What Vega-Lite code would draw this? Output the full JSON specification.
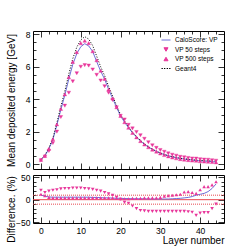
{
  "$schema": "https://vega.github.io/schema/vega-lite/v6.json",
  "padding": {"left": 5, "top": 29, "right": 0, "bottom": 0},
  "spacing": 6,
  "bounds": "flush",
  "config": {
    "font": "Liberation Sans",
    "view": {"stroke": "#000", "strokeWidth": 1},
    "axis": {"domain": false, "grid": false, "tickColor": "#000", "labelColor": "#000", "titleColor": "#000", "labelFontSize": 8.5, "titleFontSize": 10, "titleFontWeight": "normal", "tickWidth": 0.8, "labelFont": "Liberation Sans", "titleFont": "Liberation Sans"}
  },
  "datasets": {
    "prof": [
      {"l":0,"g":0.3,"c":0.27,"cd":10,"a":0.24,"ad":21,"b":0.265,"bd":12},
      {"l":1,"g":0.56,"c":0.515,"cd":8,"a":0.47,"ad":16,"b":0.51,"bd":9},
      {"l":2,"g":1.0,"c":0.94,"cd":6,"a":0.81,"ad":19,"b":0.95,"bd":5},
      {"l":3,"g":1.6,"c":1.512,"cd":5.5,"a":1.3,"ad":21,"b":1.54,"bd":4},
      {"l":4,"g":2.55,"c":2.41,"cd":5.5,"a":2.0,"ad":22,"b":2.45,"bd":4},
      {"l":5,"g":3.55,"c":3.355,"cd":5.5,"a":2.9,"ad":24,"b":3.4,"bd":4},
      {"l":6,"g":4.5,"c":4.253,"cd":5.5,"a":3.6,"ad":25,"b":4.3,"bd":4},
      {"l":7,"g":5.55,"c":5.245,"cd":5.5,"a":4.4,"ad":25,"b":5.35,"bd":4},
      {"l":8,"g":6.5,"c":6.14,"cd":5.5,"a":5.1,"ad":26,"b":6.3,"bd":4},
      {"l":9,"g":7.2,"c":6.804,"cd":5.5,"a":5.6,"ad":26,"b":6.9,"bd":4},
      {"l":10,"g":7.65,"c":7.23,"cd":5.5,"a":6.0,"ad":26,"b":7.45,"bd":4},
      {"l":11,"g":7.85,"c":7.418,"cd":5.5,"a":6.1,"ad":25,"b":7.6,"bd":4},
      {"l":12,"g":7.7,"c":7.28,"cd":5.5,"a":6.07,"ad":24,"b":7.45,"bd":4},
      {"l":13,"g":7.3,"c":6.935,"cd":5,"a":5.83,"ad":23,"b":6.95,"bd":4},
      {"l":14,"g":6.65,"c":6.318,"cd":5,"a":5.5,"ad":21,"b":6.4,"bd":4},
      {"l":15,"g":6.0,"c":5.73,"cd":4.5,"a":5.15,"ad":19,"b":5.75,"bd":4},
      {"l":16,"g":5.45,"c":5.232,"cd":4,"a":4.8,"ad":16,"b":5.25,"bd":4},
      {"l":17,"g":4.8,"c":4.608,"cd":4,"a":4.4,"ad":13,"b":4.6,"bd":4},
      {"l":18,"g":4.2,"c":4.053,"cd":3.5,"a":3.95,"ad":10,"b":4.05,"bd":4},
      {"l":19,"g":3.6,"c":3.492,"cd":3,"a":3.5,"ad":5,"b":3.5,"bd":3},
      {"l":20,"g":3.05,"c":2.959,"cd":3,"a":2.98,"ad":1,"b":2.97,"bd":2},
      {"l":21,"g":2.65,"c":2.584,"cd":2.5,"a":2.75,"ad":-6,"b":2.58,"bd":2},
      {"l":22,"g":2.3,"c":2.243,"cd":2.5,"a":2.42,"ad":-8,"b":2.24,"bd":2},
      {"l":23,"g":1.97,"c":1.931,"cd":2,"a":2.2,"ad":-14,"b":1.92,"bd":3},
      {"l":24,"g":1.7,"c":1.666,"cd":2,"a":1.98,"ad":-20,"b":1.65,"bd":3},
      {"l":25,"g":1.46,"c":1.431,"cd":2,"a":1.78,"ad":-24,"b":1.42,"bd":3},
      {"l":26,"g":1.25,"c":1.225,"cd":2,"a":1.56,"ad":-25,"b":1.21,"bd":4},
      {"l":27,"g":1.07,"c":1.054,"cd":1.5,"a":1.35,"ad":-26,"b":1.04,"bd":4},
      {"l":28,"g":0.92,"c":0.906,"cd":1.5,"a":1.16,"ad":-26,"b":0.89,"bd":4},
      {"l":29,"g":0.8,"c":0.788,"cd":1.5,"a":1.0,"ad":-26,"b":0.77,"bd":4},
      {"l":30,"g":0.69,"c":0.68,"cd":1.5,"a":0.87,"ad":-26,"b":0.66,"bd":5},
      {"l":31,"g":0.6,"c":0.591,"cd":1.5,"a":0.76,"ad":-26,"b":0.56,"bd":8},
      {"l":32,"g":0.52,"c":0.512,"cd":1.5,"a":0.66,"ad":-26,"b":0.48,"bd":9},
      {"l":33,"g":0.46,"c":0.451,"cd":2,"a":0.58,"ad":-26,"b":0.41,"bd":10},
      {"l":34,"g":0.41,"c":0.4,"cd":2.5,"a":0.52,"ad":-26,"b":0.36,"bd":11},
      {"l":35,"g":0.36,"c":0.349,"cd":3,"a":0.45,"ad":-26,"b":0.31,"bd":12},
      {"l":36,"g":0.33,"c":0.317,"cd":4,"a":0.42,"ad":-26,"b":0.28,"bd":17},
      {"l":37,"g":0.3,"c":0.285,"cd":5,"a":0.38,"ad":-27,"b":0.25,"bd":18},
      {"l":38,"g":0.27,"c":0.251,"cd":7,"a":0.35,"ad":-28,"b":0.22,"bd":16},
      {"l":39,"g":0.25,"c":0.225,"cd":10,"a":0.34,"ad":-35,"b":0.21,"bd":14},
      {"l":40,"g":0.23,"c":0.2,"cd":12,"a":0.3,"ad":-30,"b":0.18,"bd":22},
      {"l":41,"g":0.22,"c":0.187,"cd":14,"a":0.28,"ad":-29,"b":0.16,"bd":29},
      {"l":42,"g":0.21,"c":0.172,"cd":18,"a":0.27,"ad":-29,"b":0.15,"bd":29},
      {"l":43,"g":0.2,"c":0.152,"cd":25,"a":0.24,"ad":-20,"b":0.13,"bd":33},
      {"l":44,"g":0.19,"c":0.127,"cd":35,"a":0.21,"ad":-10,"b":0.11,"bd":40}
    ],
    "refs": [
      {"v": 0, "kind": "solid"},
      {"v": 10, "kind": "dot"},
      {"v": -10, "kind": "dot"}
    ]
  },
  "vconcat": [
    {
      "width": 191,
      "height": 138,
      "data": {"name": "prof"},
      "layer": [
        {
          "mark": {"type": "line", "color": "#6e6ed8", "strokeWidth": 1},
          "encoding": {
            "x": {"field": "l", "type": "quantitative", "scale": {"domain": [-2, 46], "nice": false, "zero": false},
              "axis": {"orient": "bottom", "values": [0,2,4,6,8,10,12,14,16,18,20,22,24,26,28,30,32,34,36,38,40,42,44], "labels": false, "title": null,
                "tickSize": {"condition": {"test": "datum.value % 10 === 0", "value": -6}, "value": -3}}},
            "y": {"field": "c", "type": "quantitative", "scale": {"domain": [-0.3, 8.2], "nice": false, "zero": false},
              "axis": {"orient": "left", "values": [0,0.5,1,1.5,2,2.5,3,3.5,4,4.5,5,5.5,6,6.5,7,7.5,8],
                "labelExpr": "datum.value % 2 === 0 ? format(datum.value, 'd') : ''", "labelPadding": 9,
                "tickSize": {"condition": {"test": "datum.value % 2 === 0", "value": -6}, "value": -3},
                "title": "Mean deposited energy [GeV]", "titleX": -22, "titleBaseline": "middle", "titleAngle": -90}}
          }
        },
        {
          "mark": {"type": "line", "color": "#000000", "strokeWidth": 1, "strokeDash": [1, 1.6]},
          "encoding": {
            "x": {"field": "l", "type": "quantitative", "scale": {"domain": [-2, 46], "nice": false, "zero": false},
              "axis": {"orient": "top", "values": [0,2,4,6,8,10,12,14,16,18,20,22,24,26,28,30,32,34,36,38,40,42,44], "labels": false, "title": null,
                "tickSize": {"condition": {"test": "datum.value % 10 === 0", "value": -6}, "value": -3}}},
            "y": {"field": "g", "type": "quantitative", "scale": {"domain": [-0.3, 8.2], "nice": false, "zero": false},
              "axis": {"orient": "right", "values": [0,0.5,1,1.5,2,2.5,3,3.5,4,4.5,5,5.5,6,6.5,7,7.5,8], "labels": false, "title": null,
                "tickSize": {"condition": {"test": "datum.value % 2 === 0", "value": -6}, "value": -3}}}
          }
        },
        {
          "mark": {"type": "point", "filled": true, "opacity": 1, "size": 64, "strokeWidth": 0.4},
          "encoding": {
            "x": {"field": "l", "type": "quantitative", "axis": null},
            "y": {"field": "a", "type": "quantitative", "axis": null},
            "color": {"datum": "VP 50 steps", "type": "nominal",
              "scale": {"domain": ["CaloScore: VP", "VP 50 steps", "VP 500 steps", "Geant4"], "range": ["#6e6ed8", "#e8379b", "#e8379b", "#000000"]},
              "legend": {"orient": "none", "legendX": 128, "legendY": 4, "title": null, "labelFontSize": 6.5, "symbolSize": 81, "rowPadding": 0.5, "symbolStrokeWidth": 1, "labelOffset": 4, "padding": 0, "labelColor": "#000"}},
            "stroke": {"datum": "VP 50 steps", "type": "nominal",
              "scale": {"domain": ["CaloScore: VP", "VP 50 steps", "VP 500 steps", "Geant4"], "range": ["#6e6ed8", "#e8379b", "#e8379b", "#000000"]},
              "legend": {"orient": "none", "legendX": 128, "legendY": 4, "title": null, "labelFontSize": 6.5, "symbolSize": 81, "rowPadding": 0.5, "symbolStrokeWidth": 1, "labelOffset": 4, "padding": 0, "labelColor": "#000"}},
            "shape": {"datum": "VP 50 steps", "type": "nominal",
              "scale": {"domain": ["CaloScore: VP", "VP 50 steps", "VP 500 steps", "Geant4"], "range": ["stroke", "M-0.45,-0.39L0.45,-0.39L0,0.39Z", "M-0.45,0.39L0.45,0.39L0,-0.39Z", "M-1,0H-0.7M-0.45,0H-0.15M0.15,0H0.45M0.7,0H1"]},
              "legend": {"orient": "none", "legendX": 128, "legendY": 4, "title": null, "labelFontSize": 6.5, "symbolSize": 81, "rowPadding": 0.5, "symbolStrokeWidth": 1, "labelOffset": 4, "padding": 0, "labelColor": "#000"}}
          }
        },
        {
          "mark": {"type": "point", "filled": true, "opacity": 1, "size": 64, "strokeWidth": 0.4},
          "encoding": {
            "x": {"field": "l", "type": "quantitative", "axis": null},
            "y": {"field": "b", "type": "quantitative", "axis": null},
            "color": {"datum": "VP 500 steps", "type": "nominal"},
            "stroke": {"datum": "VP 500 steps", "type": "nominal"},
            "shape": {"datum": "VP 500 steps", "type": "nominal"}
          }
        }
      ],
      "resolve": {"axis": {"x": "independent", "y": "independent"}}
    },
    {
      "width": 191,
      "height": 48,
      "layer": [
        {
          "data": {"name": "refs"},
          "transform": [{"filter": "datum.kind === 'solid'"}],
          "mark": {"type": "rule", "color": "#e8474f", "strokeWidth": 1},
          "encoding": {"y": {"field": "v", "type": "quantitative", "axis": null, "scale": {"domain": [-52, 55], "nice": false, "zero": false}}}
        },
        {
          "data": {"name": "refs"},
          "transform": [{"filter": "datum.kind === 'dot'"}],
          "mark": {"type": "rule", "color": "#e8474f", "strokeWidth": 1, "strokeDash": [1, 1]},
          "encoding": {"y": {"field": "v", "type": "quantitative", "axis": null}}
        },
        {
          "data": {"name": "prof"},
          "mark": {"type": "line", "color": "#6e6ed8", "strokeWidth": 1},
          "encoding": {
            "x": {"field": "l", "type": "quantitative", "scale": {"domain": [-2, 46], "nice": false, "zero": false},
              "axis": {"orient": "bottom", "values": [0,2,4,6,8,10,12,14,16,18,20,22,24,26,28,30,32,34,36,38,40,42,44],
                "labelExpr": "datum.value % 10 === 0 ? datum.label : ''", "labelPadding": 9,
                "tickSize": {"condition": {"test": "datum.value % 10 === 0", "value": -6}, "value": -3},
                "title": "Layer number", "titleAnchor": "end", "titleAlign": "right", "titleX": 191, "titleY": 17, "titleBaseline": "middle"}},
            "y": {"field": "cd", "type": "quantitative",
              "axis": {"orient": "left", "values": [-50,-40,-30,-20,-10,0,10,20,30,40,50],
                "labelExpr": "datum.value % 50 === 0 ? datum.label : ''", "labelPadding": 9,
                "tickSize": {"condition": {"test": "datum.value % 50 === 0", "value": -6}, "value": -3},
                "title": "Difference. (%)", "titleX": -22, "titleY": 34, "titleBaseline": "middle", "titleAngle": -90}}
          }
        },
        {
          "data": {"name": "prof"},
          "mark": {"type": "point", "filled": true, "opacity": 1, "size": 64, "strokeWidth": 0.4},
          "encoding": {
            "x": {"field": "l", "type": "quantitative",
              "axis": {"orient": "top", "values": [0,2,4,6,8,10,12,14,16,18,20,22,24,26,28,30,32,34,36,38,40,42,44], "labels": false, "title": null,
                "tickSize": {"condition": {"test": "datum.value % 10 === 0", "value": -6}, "value": -3}}},
            "y": {"field": "ad", "type": "quantitative",
              "axis": {"orient": "right", "values": [-50,-40,-30,-20,-10,0,10,20,30,40,50], "labels": false, "title": null,
                "tickSize": {"condition": {"test": "datum.value % 50 === 0", "value": -6}, "value": -3}}},
            "color": {"datum": "VP 50 steps", "type": "nominal", "legend": null,
              "scale": {"domain": ["CaloScore: VP", "VP 50 steps", "VP 500 steps", "Geant4"], "range": ["#6e6ed8", "#e8379b", "#e8379b", "#000000"]}},
            "shape": {"datum": "VP 50 steps", "type": "nominal", "legend": null,
              "scale": {"domain": ["CaloScore: VP", "VP 50 steps", "VP 500 steps", "Geant4"], "range": ["stroke", "M-0.45,-0.39L0.45,-0.39L0,0.39Z", "M-0.45,0.39L0.45,0.39L0,-0.39Z", "M-1,0H-0.7M-0.45,0H-0.15M0.15,0H0.45M0.7,0H1"]}}
          }
        },
        {
          "data": {"name": "prof"},
          "mark": {"type": "point", "filled": true, "opacity": 1, "size": 64, "strokeWidth": 0.4},
          "encoding": {
            "x": {"field": "l", "type": "quantitative", "axis": null},
            "y": {"field": "bd", "type": "quantitative", "axis": null},
            "color": {"datum": "VP 500 steps", "type": "nominal", "legend": null},
            "shape": {"datum": "VP 500 steps", "type": "nominal", "legend": null}
          }
        }
      ],
      "resolve": {"axis": {"x": "independent", "y": "independent"}}
    }
  ]
}
